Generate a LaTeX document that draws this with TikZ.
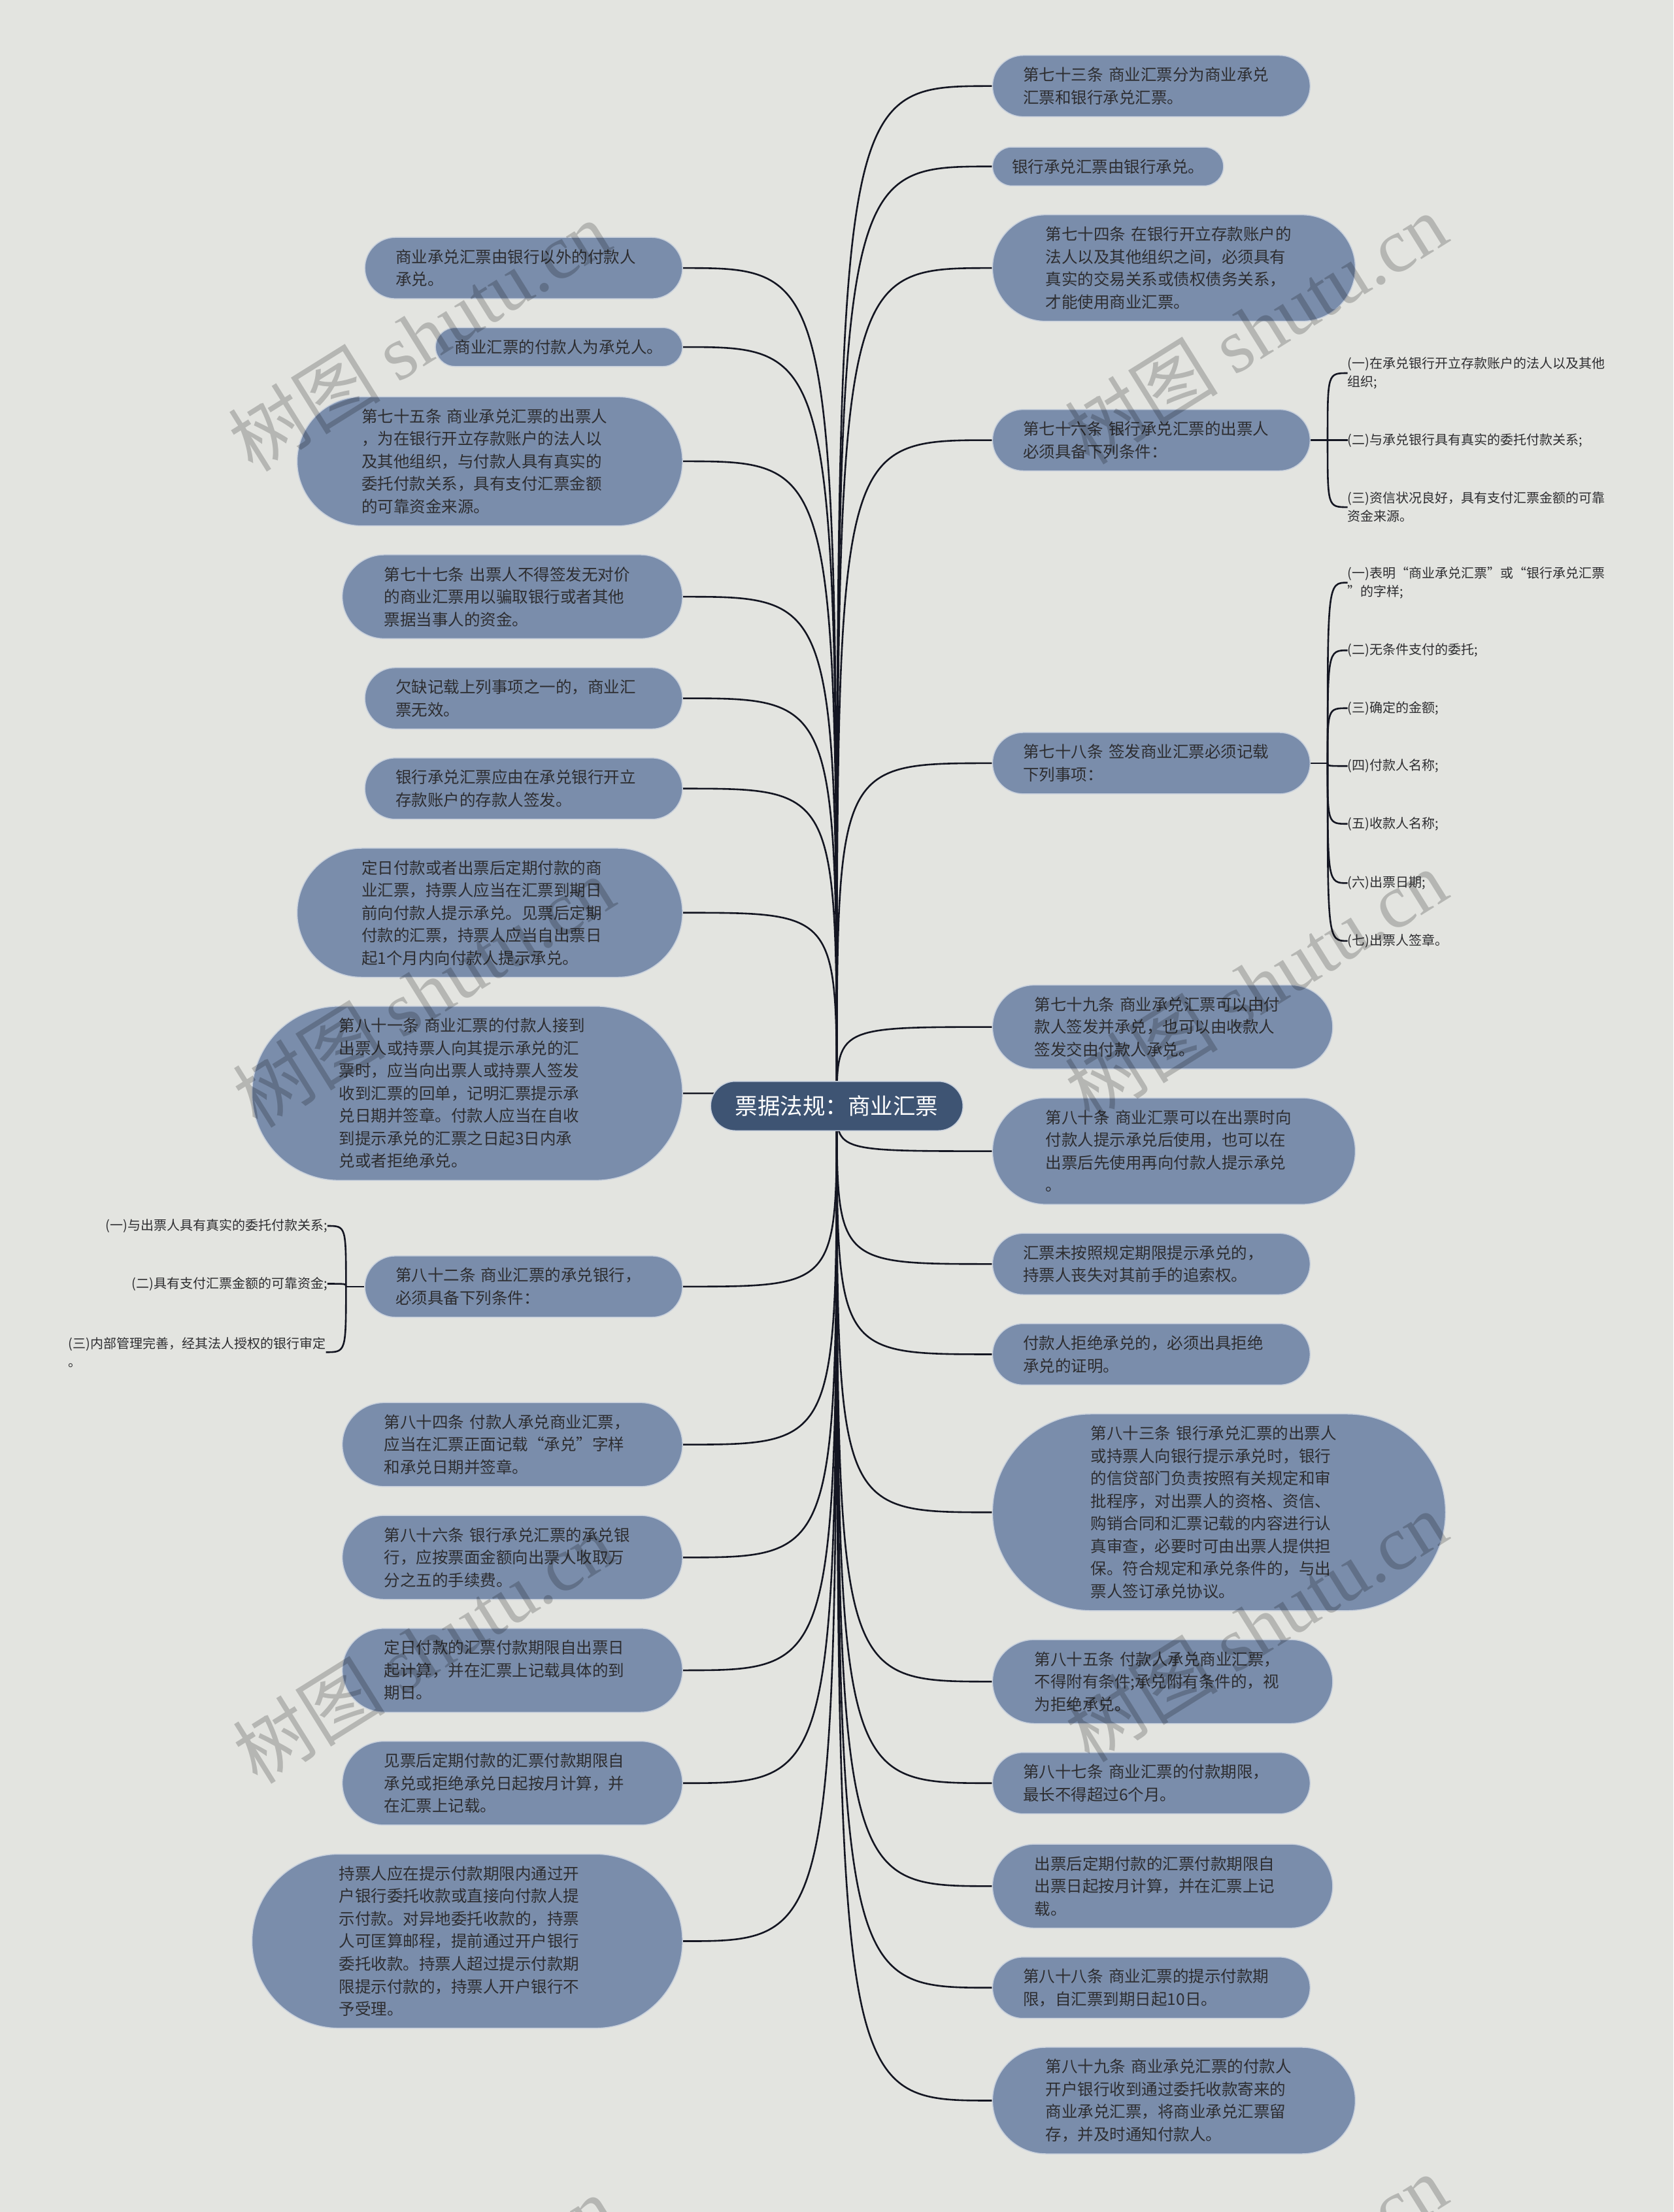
\documentclass[tikz,border=0pt]{standalone}
\usepackage{fontspec}
\setmainfont{Noto Sans CJK SC}
\newfontfamily\wmserif{Liberation Serif}
\usetikzlibrary{calc}
\definecolor{bgc}{RGB}{227,228,224}
\definecolor{boxc}{RGB}{122,141,171}
\definecolor{boxbd}{RGB}{200,208,220}
\definecolor{rootc}{RGB}{62,84,115}
\definecolor{txtc}{RGB}{45,45,48}
\definecolor{linec}{RGB}{20,22,34}
\pgfdeclarelayer{bg}
\pgfsetlayers{bg,main}
\tikzset{
  tb/.style={rectangle, fill=boxc, draw=boxbd, line width=1.5pt, text=txtc,
    font=\fontsize{24.5pt}{34.5pt}\selectfont, align=left, inner ysep=0pt},
  multi/.style={tb, text width=392pt},
  capH/.style={minimum height=#1, inner xsep=0.5*#1, rounded corners=0.5*#1},
  rootnode/.style={rectangle, fill=rootc, draw=boxbd, line width=1.5pt, text=white,
    font=\fontsize{34.5pt}{40pt}\selectfont, minimum height=75.5pt,
    inner xsep=37.75pt, inner ysep=0pt, rounded corners=37.75pt},
  leaf/.style={text=txtc, font=\fontsize{20pt}{28pt}\selectfont, align=left, inner sep=0pt},
  conn/.style={draw=linec, line width=2.6pt},
  wm/.style={text=black, text opacity=0.2, rotate=32,
    font=\fontsize{117pt}{117pt}\selectfont, inner sep=0pt}
}
\begin{document}
\begin{tikzpicture}[x=2.1585pt, y=-2.1585pt]
\useasboundingbox (0,0) rectangle (1186,1568);
\clip (0,0) rectangle (1186,1568);
\begin{pgfonlayer}{bg}
\fill[bgc] (0,0) rectangle (1186,1568);
\end{pgfonlayer}

% root
\node[rootnode] (c) at (593,784) {票据法规：商业汇票};

% right side
\node[multi, capH=93.9pt, anchor=west] (R1) at (703,61) {第七十三条~商业汇票分为商业承兑\\汇票和银行承兑汇票。};
\node[tb, capH=59.4pt, anchor=west] (R2) at (703,118) {银行承兑汇票由银行承兑。};
\node[multi, capH=163pt, anchor=west] (R3) at (703,190) {第七十四条~在银行开立存款账户的\\法人以及其他组织之间，必须具有\\真实的交易关系或债权债务关系，\\才能使用商业汇票。};
\node[multi, capH=93.9pt, anchor=west] (R4) at (703,312) {第七十六条~银行承兑汇票的出票人\\必须具备下列条件：};
\node[multi, capH=93.9pt, anchor=west] (R5) at (703,541) {第七十八条~签发商业汇票必须记载\\下列事项：};
\node[multi, capH=128.4pt, anchor=west] (R6) at (703,728) {第七十九条~商业承兑汇票可以由付\\款人签发并承兑，也可以由收款人\\签发交由付款人承兑。};
\node[multi, capH=163pt, anchor=west] (R7) at (703,816) {第八十条~商业汇票可以在出票时向\\付款人提示承兑后使用，也可以在\\出票后先使用再向付款人提示承兑\\。};
\node[multi, capH=93.9pt, anchor=west] (R8) at (703,896) {汇票未按照规定期限提示承兑的，\\持票人丧失对其前手的追索权。};
\node[multi, capH=93.9pt, anchor=west] (R9) at (703,960) {付款人拒绝承兑的，必须出具拒绝\\承兑的证明。};
\node[multi, capH=301pt, anchor=west] (R10) at (703,1072) {第八十三条~银行承兑汇票的出票人\\或持票人向银行提示承兑时，银行\\的信贷部门负责按照有关规定和审\\批程序，对出票人的资格、资信、\\购销合同和汇票记载的内容进行认\\真审查，必要时可由出票人提供担\\保。符合规定和承兑条件的，与出\\票人签订承兑协议。};
\node[multi, capH=128.4pt, anchor=west] (R11) at (703,1192) {第八十五条~付款人承兑商业汇票，\\不得附有条件;承兑附有条件的，视\\为拒绝承兑。};
\node[multi, capH=93.9pt, anchor=west] (R12) at (703,1264) {第八十七条~商业汇票的付款期限，\\最长不得超过6个月。};
\node[multi, capH=128.4pt, anchor=west] (R13) at (703,1337) {出票后定期付款的汇票付款期限自\\出票日起按月计算，并在汇票上记\\载。};
\node[multi, capH=93.9pt, anchor=west] (R14) at (703,1409) {第八十八条~商业汇票的提示付款期\\限，自汇票到期日起10日。};
\node[multi, capH=163pt, anchor=west] (R15) at (703,1489) {第八十九条~商业承兑汇票的付款人\\开户银行收到通过委托收款寄来的\\商业承兑汇票，将商业承兑汇票留\\存，并及时通知付款人。};

% left side
\node[multi, capH=93.9pt, anchor=east] (L1) at (484,190) {商业承兑汇票由银行以外的付款人\\承兑。};
\node[tb, capH=59.4pt, anchor=east] (L2) at (484,246) {商业汇票的付款人为承兑人。};
\node[multi, capH=197.5pt, anchor=east] (L3) at (484,327) {第七十五条~商业承兑汇票的出票人\\，为在银行开立存款账户的法人以\\及其他组织，与付款人具有真实的\\委托付款关系，具有支付汇票金额\\的可靠资金来源。};
\node[multi, capH=128.4pt, anchor=east] (L4) at (484,423) {第七十七条~出票人不得签发无对价\\的商业汇票用以骗取银行或者其他\\票据当事人的资金。};
\node[multi, capH=93.9pt, anchor=east] (L5) at (484,495) {欠缺记载上列事项之一的，商业汇\\票无效。};
\node[multi, capH=93.9pt, anchor=east] (L6) at (484,559) {银行承兑汇票应由在承兑银行开立\\存款账户的存款人签发。};
\node[multi, capH=197.5pt, anchor=east] (L7) at (484,647) {定日付款或者出票后定期付款的商\\业汇票，持票人应当在汇票到期日\\前向付款人提示承兑。见票后定期\\付款的汇票，持票人应当自出票日\\起1个月内向付款人提示承兑。};
\node[multi, capH=266.5pt, anchor=east] (L8) at (484,775) {第八十一条~商业汇票的付款人接到\\出票人或持票人向其提示承兑的汇\\票时，应当向出票人或持票人签发\\收到汇票的回单，记明汇票提示承\\兑日期并签章。付款人应当在自收\\到提示承兑的汇票之日起3日内承\\兑或者拒绝承兑。};
\node[multi, capH=93.9pt, anchor=east] (L9) at (484,912) {第八十二条~商业汇票的承兑银行，\\必须具备下列条件：};
\node[multi, capH=128.4pt, anchor=east] (L10) at (484,1024) {第八十四条~付款人承兑商业汇票，\\应当在汇票正面记载“承兑”字样\\和承兑日期并签章。};
\node[multi, capH=128.4pt, anchor=east] (L11) at (484,1104) {第八十六条~银行承兑汇票的承兑银\\行，应按票面金额向出票人收取万\\分之五的手续费。};
\node[multi, capH=128.4pt, anchor=east] (L12) at (484,1184) {定日付款的汇票付款期限自出票日\\起计算，并在汇票上记载具体的到\\期日。};
\node[multi, capH=128.4pt, anchor=east] (L13) at (484,1264) {见票后定期付款的汇票付款期限自\\承兑或拒绝承兑日起按月计算，并\\在汇票上记载。};
\node[multi, capH=266.5pt, anchor=east] (L14) at (484,1376) {持票人应在提示付款期限内通过开\\户银行委托收款或直接向付款人提\\示付款。对异地委托收款的，持票\\人可匡算邮程，提前通过开户银行\\委托收款。持票人超过提示付款期\\限提示付款的，持票人开户银行不\\予受理。};

% leaves
\node[leaf, anchor=west] (R4a) at (955,264.5) {(一)在承兑银行开立存款账户的法人以及其他\\组织;};
\node[leaf, anchor=west] (R4b) at (955,312) {(二)与承兑银行具有真实的委托付款关系;};
\node[leaf, anchor=west] (R4c) at (955,359.5) {(三)资信状况良好，具有支付汇票金额的可靠\\资金来源。};
\node[leaf, anchor=west] (R5a) at (955,413) {(一)表明“商业承兑汇票”或“银行承兑汇票\\”的字样;};
\node[leaf, anchor=west] (R5b) at (955,461) {(二)无条件支付的委托;};
\node[leaf, anchor=west] (R5c) at (955,502) {(三)确定的金额;};
\node[leaf, anchor=west] (R5d) at (955,543) {(四)付款人名称;};
\node[leaf, anchor=west] (R5e) at (955,584) {(五)收款人名称;};
\node[leaf, anchor=west] (R5f) at (955,626) {(六)出票日期;};
\node[leaf, anchor=west] (R5g) at (955,667) {(七)出票人签章。};
\node[leaf, anchor=east] (L9a) at (232,869) {(一)与出票人具有真实的委托付款关系;};
\node[leaf, anchor=east] (L9b) at (232,910) {(二)具有支付汇票金额的可靠资金;};
\node[leaf, anchor=east] (L9c) at (231,958.5) {(三)内部管理完善，经其法人授权的银行审定\\。};

\path (R4.east) ++(12,0) coordinate (R4s);
\path (R5.east) ++(12,0) coordinate (R5s);
\path (L9.west) ++(-13,0) coordinate (L9s);

\begin{pgfonlayer}{bg}
\foreach \n in {R1,R2,R3,R4,R5,R6,R7,R8,R9,R10,R11,R12,R13,R14,R15}
  \draw[conn] (c.center) .. controls (c.center |- \n.west) .. (\n.west);
\foreach \n in {L1,L2,L3,L4,L5,L6,L7,L8,L9,L10,L11,L12,L13,L14}
  \draw[conn] (c.center) .. controls (c.center |- \n.east) .. (\n.east);
\draw[conn] (R4.east) -- (R4s);
\foreach \n in {R4a,R4b,R4c}
  \draw[conn] (R4s) .. controls (R4s |- \n.west) .. (\n.west);
\draw[conn] (R5.east) -- (R5s);
\foreach \n in {R5a,R5b,R5c,R5d,R5e,R5f,R5g}
  \draw[conn] (R5s) .. controls (R5s |- \n.west) .. (\n.west);
\draw[conn] (L9.west) -- (L9s);
\foreach \n in {L9a,L9b,L9c}
  \draw[conn] (L9s) .. controls (L9s |- \n.east) .. (\n.east);
\end{pgfonlayer}

% watermarks
\node[wm] (w1) at (297,238) {树图 {\wmserif shutu.cn}};
\node[wm] (w2) at (890,233) {树图 {\wmserif shutu.cn}};
\node[wm] (w3) at (300,703) {树图 {\wmserif shutu.cn}};
\node[wm] (w4) at (890,698) {树图 {\wmserif shutu.cn}};
\node[wm] (w5) at (300,1168) {树图 {\wmserif shutu.cn}};
\node[wm] (w6) at (890,1153) {树图 {\wmserif shutu.cn}};
\node[wm] (w7) at (300,1638) {树图 {\wmserif shutu.cn}};
\node[wm] (w8) at (890,1623) {树图 {\wmserif shutu.cn}};
\end{tikzpicture}
\end{document}
